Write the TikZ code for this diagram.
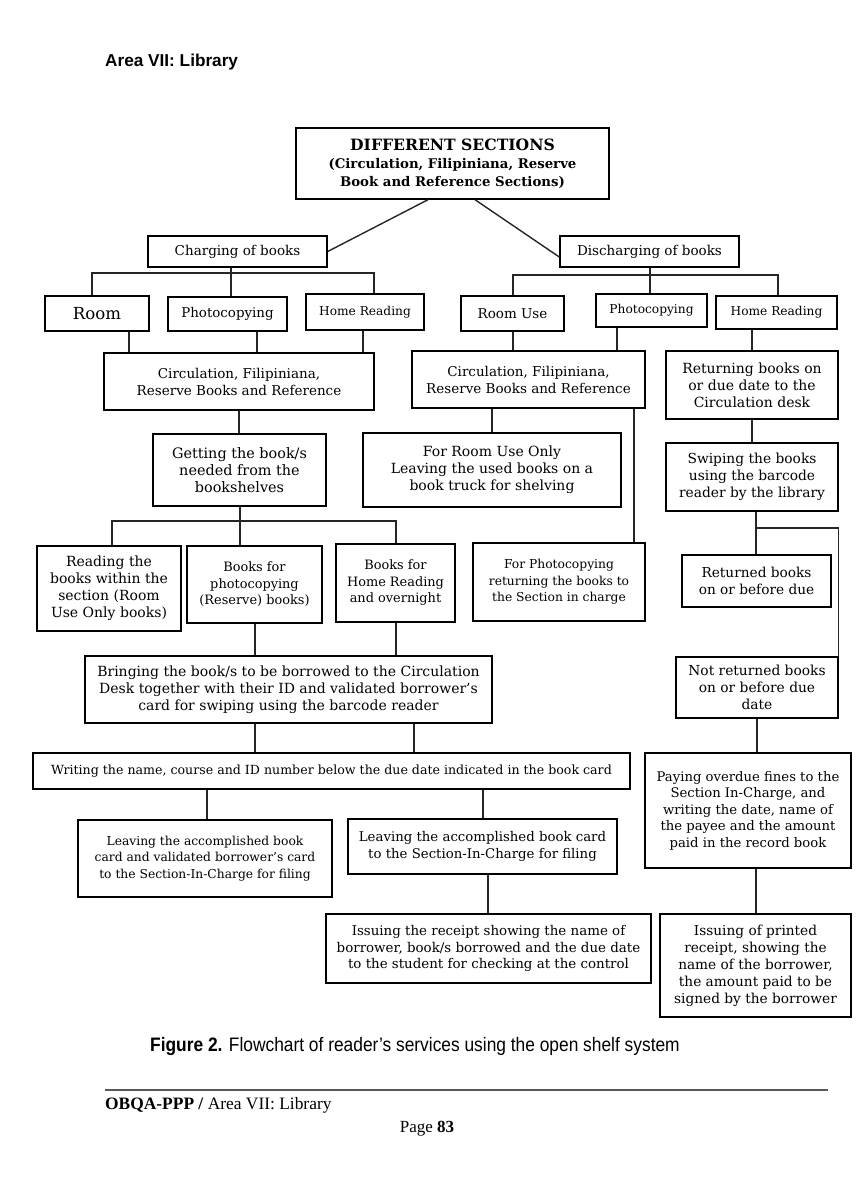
\documentclass[tikz,border=0pt]{standalone}
\usepackage{fontspec}
\newfontfamily\headsans{Liberation Sans}
\newfontfamily\capsans[FakeStretch=0.89]{Liberation Sans}
\newfontfamily\footserif{Liberation Serif}
% wide serif for the flowchart boxes
\newfontfamily\boxserif{DejaVu Serif}
\newcommand\setfs[2]{\fontsize{#1}{#2}\selectfont}
\tikzset{
  box/.style={draw=black, line width=1.4pt, inner sep=0pt, align=center,
              font=\boxserif\setfs{13.5}{17}},
  fsz/.style={font=\boxserif\setfs{#1}{17}},
  fszt/.style={font=\boxserif\setfs{#1}{16.5}},
  link/.style={draw=black!85, line width=1.4pt},
}
\begin{document}
\begin{tikzpicture}[x=1pt,y=-1pt]
\fill[white] (0,0) rectangle (860,1200);
\useasboundingbox (0,0) rectangle (860,1200);

% page heading
\node[anchor=west, inner sep=0pt, font=\headsans\bfseries\setfs{17.2}{20}] (head) at (105,62) {Area VII: Library};

% root
\node[box, minimum width=313pt, minimum height=71pt, font=\boxserif\bfseries\setfs{13.3}{18}] (top) at (452.5,163.5)
  {{\setfs{15.6}{18}DIFFERENT SECTIONS}\\(Circulation, Filipiniana, Reserve\\Book and Reference Sections)};

% two main processes
\node[box, minimum width=179pt, minimum height=31pt] (charge) at (237.5,251.5) {Charging of books};
\node[box, minimum width=179pt, minimum height=31pt] (discharge) at (649.5,251.5) {Discharging of books};

% charging: kinds of use
\node[box, minimum width=104pt, minimum height=35pt, fsz=16.6] (room) at (97,313.5) {Room};
\node[box, minimum width=119pt, minimum height=34pt, fsz=13.4] (photoL) at (227.5,314) {Photocopying};
\node[box, minimum width=118pt, minimum height=36pt, fsz=12.2] (homeL) at (365,312) {Home Reading};

% discharging: kinds of use
\node[box, minimum width=103pt, minimum height=35pt] (roomuse) at (512.5,313.5) {Room Use};
\node[box, minimum width=111pt, minimum height=33pt, fsz=12.2] (photoR) at (651.5,310.5) {\raisebox{1.5pt}{Photocopying}};
\node[box, minimum width=121pt, minimum height=33pt, fsz=12.2] (homeR) at (776.5,312.5) {Home Reading};

% sections
\node[box, minimum width=270pt, minimum height=57pt] (circL) at (239,381.5) {Circulation, Filipiniana,\\Reserve Books and Reference};
\node[box, minimum width=233pt, minimum height=57pt] (circR) at (528.5,379.5) {Circulation, Filipiniana,\\Reserve Books and Reference};
\node[box, minimum width=172pt, minimum height=68pt, fsz=14] (returning) at (752,385) {Returning books on\\or due date to the\\Circulation desk};

\node[box, minimum width=173pt, minimum height=72pt, fsz=14.4] (getting) at (239.5,470) {Getting the book/s\\needed from the\\bookshelves};
\node[box, minimum width=258pt, minimum height=74pt, fsz=14] (forroom) at (492,470) {For Room Use Only\\Leaving the used books on a\\book truck for shelving};
\node[box, minimum width=172pt, minimum height=68pt, fsz=13.8] (swiping) at (752,477) {Swiping the books\\using the barcode\\reader by the library};

\node[box, minimum width=144pt, minimum height=85pt, fsz=14] (reading) at (109,588.5) {Reading the\\books within the\\section (Room\\Use Only books)};
\node[box, minimum width=135pt, minimum height=77pt, fszt=12.9] (bphoto) at (254.5,584.5) {Books for\\photocopying\\(Reserve) books)};
\node[box, minimum width=119pt, minimum height=78pt, fszt=12.9] (bhome) at (395.5,583) {Books for\\Home Reading\\and overnight};
\node[box, minimum width=172pt, minimum height=78pt, fszt=12.3] (forphoto) at (559,582) {For Photocopying\\returning the books to\\the Section in charge};
\node[box, minimum width=149pt, minimum height=52pt, fsz=13.7] (returned) at (756.5,581) {Returned books\\on or before due};

\node[box, minimum width=407pt, minimum height=67pt, fsz=14] (bringing) at (288.5,689.5)
  {Bringing the book/s to be borrowed to the Circulation\\Desk together with their ID and validated borrower’s\\card for swiping using the barcode reader};
\node[box, minimum width=162pt, minimum height=61pt, fsz=13.8] (notret) at (757,687.5) {Not returned books\\on or before due\\date};

\node[box, minimum width=597pt, minimum height=36pt, fszt=12.6] (writing) at (331.5,771)
  {Writing the name, course and ID number below the due date indicated in the book card};
\node[box, minimum width=206pt, minimum height=115pt, fszt=13.2] (paying) at (748,810.5)
  {Paying overdue fines to the\\Section In-Charge, and\\writing the date, name of\\the payee and the amount\\paid in the record book};

\node[box, minimum width=254pt, minimum height=77pt, fszt=12.3] (leaving1) at (205,858.5)
  {Leaving the accomplished book\\card and validated borrower’s card\\to the Section-In-Charge for filing};
\node[box, minimum width=269pt, minimum height=55pt, fszt=13.3] (leaving2) at (482.5,846.5)
  {Leaving the accomplished book card\\to the Section-In-Charge for filing};

\node[box, minimum width=325pt, minimum height=69pt, fszt=13.4] (issuing) at (488.5,948.5)
  {Issuing the receipt showing the name of\\borrower, book/s borrowed and the due date\\to the student for checking at the control};
\node[box, minimum width=191pt, minimum height=103pt, fsz=13.7] (printed) at (755.5,965.5)
  {Issuing of printed\\receipt, showing the\\name of the borrower,\\the amount paid to be\\signed by the borrower};

% rail levels of the branching lines
\coordinate (cbar) at (0,273);
\coordinate (dbar) at (0,275);
\coordinate (gbar) at (0,521);
\coordinate (sbar) at (0,528);

% root to the two processes
\draw[link] ([xshift=-24.5pt]top.south) -- (charge.east);
\draw[link] ([xshift=22.5pt]top.south) -- ([yshift=-5.5pt]discharge.west);

% charging branches
\draw[link] ([xshift=-6.5pt]charge.south) -- ([xshift=-6.5pt]charge.south |- photoL.north);
\draw[link] ([xshift=-5pt]room.north) -- ([xshift=-5pt]room.north |- cbar)
  -- ([xshift=9pt]homeL.north |- cbar) -- ([xshift=9pt]homeL.north);

% discharging branches
\draw[link] ([xshift=0.5pt]discharge.south) -- ([xshift=0.5pt]discharge.south |- photoR.north);
\draw[link] ([xshift=0.5pt]roomuse.north) -- ([xshift=0.5pt]roomuse.north |- dbar)
  -- ([xshift=1.5pt]homeR.north |- dbar) -- ([xshift=1.5pt]homeR.north);

% kinds of use to sections
\draw[link] ([xshift=32pt]room.south) -- ([xshift=32pt]room.south |- circL.north);
\draw[link] ([xshift=29.5pt]photoL.south) -- ([xshift=29.5pt]photoL.south |- circL.north);
\draw[link] ([xshift=-2pt]homeL.south) -- ([xshift=-2pt]homeL.south |- circL.north);
\draw[link] ([xshift=0.5pt]roomuse.south) -- ([xshift=0.5pt]roomuse.south |- circR.north);
\draw[link] ([xshift=-34.5pt]photoR.south) -- ([xshift=-34.5pt]photoR.south |- circR.north);
\draw[link] ([xshift=-24.5pt]homeR.south) -- ([xshift=-24.5pt]homeR.south |- returning.north);

% charging flow
\draw[link] (circL.south) -- (circL.south |- getting.north);
\draw[link] ([xshift=0.5pt]getting.south) -- ([xshift=0.5pt]getting.south |- bphoto.north);
\draw[link] ([xshift=3pt]reading.north) -- ([xshift=3pt]reading.north |- gbar)
  -- ([xshift=0.5pt]bhome.north |- gbar) -- ([xshift=0.5pt]bhome.north);
\draw[link] ([xshift=0.5pt]bphoto.south) -- ([xshift=0.5pt]bphoto.south |- bringing.north);
\draw[link] ([xshift=0.5pt]bhome.south) -- ([xshift=0.5pt]bhome.south |- bringing.north);
\draw[link] ([xshift=-33.5pt]bringing.south) -- ([xshift=-33.5pt]bringing.south |- writing.north);
\draw[link] ([xshift=125.5pt]bringing.south) -- ([xshift=125.5pt]bringing.south |- writing.north);
\draw[link] ([xshift=-124.5pt]writing.south) -- ([xshift=-124.5pt]writing.south |- leaving1.north);
\draw[link] ([xshift=151.5pt]writing.south) -- ([xshift=151.5pt]writing.south |- leaving2.north);
\draw[link] ([xshift=5.5pt]leaving2.south) -- ([xshift=5.5pt]leaving2.south |- issuing.north);

% discharging flow
\draw[link] ([xshift=-36.5pt]circR.south) -- ([xshift=-36.5pt]circR.south |- forroom.north);
\draw[link] ([xshift=105.5pt]circR.south) -- ([xshift=105.5pt]circR.south |- forphoto.north);
\draw[link] (returning.south) -- (returning.south |- swiping.north);
\draw[link] ([xshift=4pt]swiping.south) -- ([xshift=4pt]swiping.south |- returned.north);
\draw[link] ([xshift=4pt]swiping.south |- sbar) -- (notret.north east |- sbar) -- (notret.north east);
\draw[link] (notret.south) -- (notret.south |- paying.north);
\draw[link] ([xshift=8pt]paying.south) -- ([xshift=8pt]paying.south |- printed.north);

% caption
\node[anchor=west, inner sep=0pt, font=\capsans\setfs{19.5}{22}] (caption) at (150,1046)
  {\textbf{Figure 2.} Flowchart of reader’s services using the open shelf system};

% page footer
\coordinate (ruleL) at (105,1090);
\coordinate (ruleR) at (828,1090);
\draw[line width=2pt, black!65] (ruleL) -- (ruleR);
\node[anchor=west, inner sep=0pt, font=\footserif\setfs{17.4}{20}] (foot) at (105,1105)
  {\textbf{OBQA-PPP /} Area VII: Library};
\node[inner sep=0pt, font=\footserif\setfs{17}{20}] (page) at (427,1129) {Page \textbf{83}};
\end{tikzpicture}
\end{document}
